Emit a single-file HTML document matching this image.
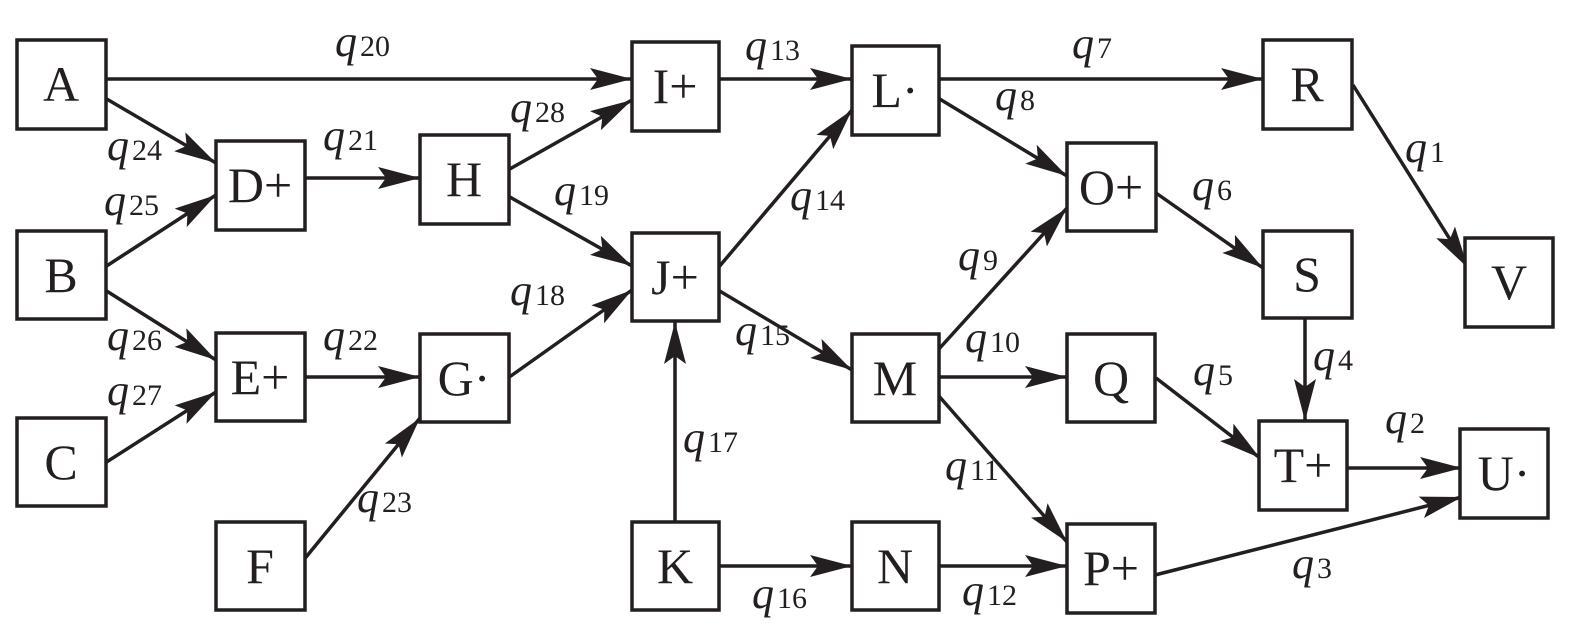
<!DOCTYPE html>
<html><head><meta charset="utf-8"><style>
html,body{margin:0;padding:0;background:#fff;}
svg{display:block;}
.n{font-family:"Liberation Serif",serif;font-size:50px;fill:#231f20;text-anchor:middle;}
.q{font-family:"Liberation Serif",serif;font-size:44px;font-style:italic;fill:#231f20;}
.s{font-family:"Liberation Serif",serif;font-size:30px;font-style:normal;}
rect{fill:#fff;stroke:#231f20;stroke-width:3.5;}
line{stroke:#231f20;stroke-width:3.5;}
</style></head><body>
<svg width="1575" height="639" viewBox="0 0 1575 639" xmlns="http://www.w3.org/2000/svg">
<defs><marker id="a" markerWidth="44" markerHeight="22" refX="42" refY="11" orient="auto" markerUnits="userSpaceOnUse"><path d="M0,0 L42,11 L0,22 L8,11 Z" fill="#231f20"/></marker></defs>
<g marker-end="url(#a)">
<line x1="105" y1="79" x2="632" y2="79"/>
<line x1="105" y1="98" x2="216" y2="163"/>
<line x1="105" y1="267" x2="216" y2="195"/>
<line x1="105" y1="290" x2="216" y2="360"/>
<line x1="105" y1="463" x2="216" y2="392"/>
<line x1="305" y1="178" x2="420" y2="178"/>
<line x1="305" y1="377" x2="420" y2="377"/>
<line x1="302" y1="562" x2="420" y2="418"/>
<line x1="508" y1="170" x2="632" y2="100"/>
<line x1="508" y1="196" x2="632" y2="266"/>
<line x1="508" y1="378" x2="632" y2="290"/>
<line x1="675" y1="522" x2="675" y2="322"/>
<line x1="718" y1="268" x2="852" y2="110"/>
<line x1="718" y1="290" x2="852" y2="370"/>
<line x1="720" y1="79" x2="852" y2="79"/>
<line x1="938" y1="79" x2="1263" y2="79"/>
<line x1="938" y1="98" x2="1067" y2="176"/>
<line x1="938" y1="350" x2="1067" y2="208"/>
<line x1="938" y1="377" x2="1067" y2="377"/>
<line x1="938" y1="395" x2="1067" y2="542"/>
<line x1="718" y1="566" x2="852" y2="566"/>
<line x1="938" y1="566" x2="1067" y2="566"/>
<line x1="1156" y1="193" x2="1263" y2="268"/>
<line x1="1353" y1="85" x2="1468" y2="268"/>
<line x1="1305" y1="318" x2="1305" y2="421"/>
<line x1="1156" y1="378" x2="1260" y2="458"/>
<line x1="1347" y1="468" x2="1462" y2="468"/>
<line x1="1155" y1="575" x2="1462" y2="497"/>
</g>
<rect x="17" y="40" width="89" height="89"/><text class="n" x="61" y="101">A</text>
<rect x="17" y="231" width="89" height="88"/><text class="n" x="61" y="292">B</text>
<rect x="17" y="418" width="89" height="88"/><text class="n" x="61" y="479">C</text>
<rect x="216" y="141" width="89" height="89"/><text class="n" x="260" y="202">D+</text>
<rect x="216" y="333" width="89" height="88"/><text class="n" x="260" y="394">E+</text>
<rect x="216" y="522" width="89" height="88"/><text class="n" x="260" y="583">F</text>
<rect x="420" y="135" width="89" height="89"/><text class="n" x="464" y="196">H</text>
<rect x="420" y="334" width="89" height="88"/><text class="n" x="464" y="395">G·</text>
<rect x="632" y="42" width="87" height="89"/><text class="n" x="675" y="103">I+</text>
<rect x="632" y="233" width="87" height="88"/><text class="n" x="675" y="294">J+</text>
<rect x="632" y="522" width="87" height="88"/><text class="n" x="675" y="583">K</text>
<rect x="852" y="46" width="87" height="89"/><text class="n" x="895" y="107">L·</text>
<rect x="852" y="334" width="87" height="88"/><text class="n" x="895" y="395">M</text>
<rect x="852" y="522" width="87" height="88"/><text class="n" x="895" y="583">N</text>
<rect x="1067" y="143" width="89" height="88"/><text class="n" x="1111" y="204">O+</text>
<rect x="1067" y="334" width="88" height="88"/><text class="n" x="1111" y="395">Q</text>
<rect x="1067" y="524" width="88" height="89"/><text class="n" x="1111" y="585">P+</text>
<rect x="1263" y="40" width="89" height="89"/><text class="n" x="1307" y="101">R</text>
<rect x="1263" y="231" width="89" height="87"/><text class="n" x="1307" y="291">S</text>
<rect x="1259" y="421" width="88" height="89"/><text class="n" x="1303" y="482">T+</text>
<rect x="1465" y="238" width="88" height="89"/><text class="n" x="1509" y="299">V</text>
<rect x="1460" y="429" width="88" height="89"/><text class="n" x="1504" y="490">U·</text>
<text class="q" x="335" y="56">q<tspan class="s" dx="3">20</tspan></text>
<text class="q" x="745" y="60">q<tspan class="s" dx="3">13</tspan></text>
<text class="q" x="1072" y="58">q<tspan class="s" dx="3">7</tspan></text>
<text class="q" x="107" y="160">q<tspan class="s" dx="3">24</tspan></text>
<text class="q" x="323" y="150">q<tspan class="s" dx="3">21</tspan></text>
<text class="q" x="510" y="122">q<tspan class="s" dx="3">28</tspan></text>
<text class="q" x="104" y="215">q<tspan class="s" dx="3">25</tspan></text>
<text class="q" x="554" y="205">q<tspan class="s" dx="3">19</tspan></text>
<text class="q" x="790" y="210">q<tspan class="s" dx="3">14</tspan></text>
<text class="q" x="995" y="110">q<tspan class="s" dx="3">8</tspan></text>
<text class="q" x="1405" y="162">q<tspan class="s" dx="3">1</tspan></text>
<text class="q" x="1192" y="200">q<tspan class="s" dx="3">6</tspan></text>
<text class="q" x="107" y="350">q<tspan class="s" dx="3">26</tspan></text>
<text class="q" x="323" y="350">q<tspan class="s" dx="3">22</tspan></text>
<text class="q" x="510" y="305">q<tspan class="s" dx="3">18</tspan></text>
<text class="q" x="735" y="345">q<tspan class="s" dx="3">15</tspan></text>
<text class="q" x="958" y="270">q<tspan class="s" dx="3">9</tspan></text>
<text class="q" x="965" y="352">q<tspan class="s" dx="3">10</tspan></text>
<text class="q" x="1193" y="385">q<tspan class="s" dx="3">5</tspan></text>
<text class="q" x="1313" y="370">q<tspan class="s" dx="3">4</tspan></text>
<text class="q" x="107" y="405">q<tspan class="s" dx="3">27</tspan></text>
<text class="q" x="1385" y="433">q<tspan class="s" dx="3">2</tspan></text>
<text class="q" x="683" y="452">q<tspan class="s" dx="3">17</tspan></text>
<text class="q" x="945" y="480">q<tspan class="s" dx="3">11</tspan></text>
<text class="q" x="357" y="512">q<tspan class="s" dx="3">23</tspan></text>
<text class="q" x="1292" y="578">q<tspan class="s" dx="3">3</tspan></text>
<text class="q" x="752" y="608">q<tspan class="s" dx="3">16</tspan></text>
<text class="q" x="962" y="605">q<tspan class="s" dx="3">12</tspan></text>
</svg>
</body></html>
